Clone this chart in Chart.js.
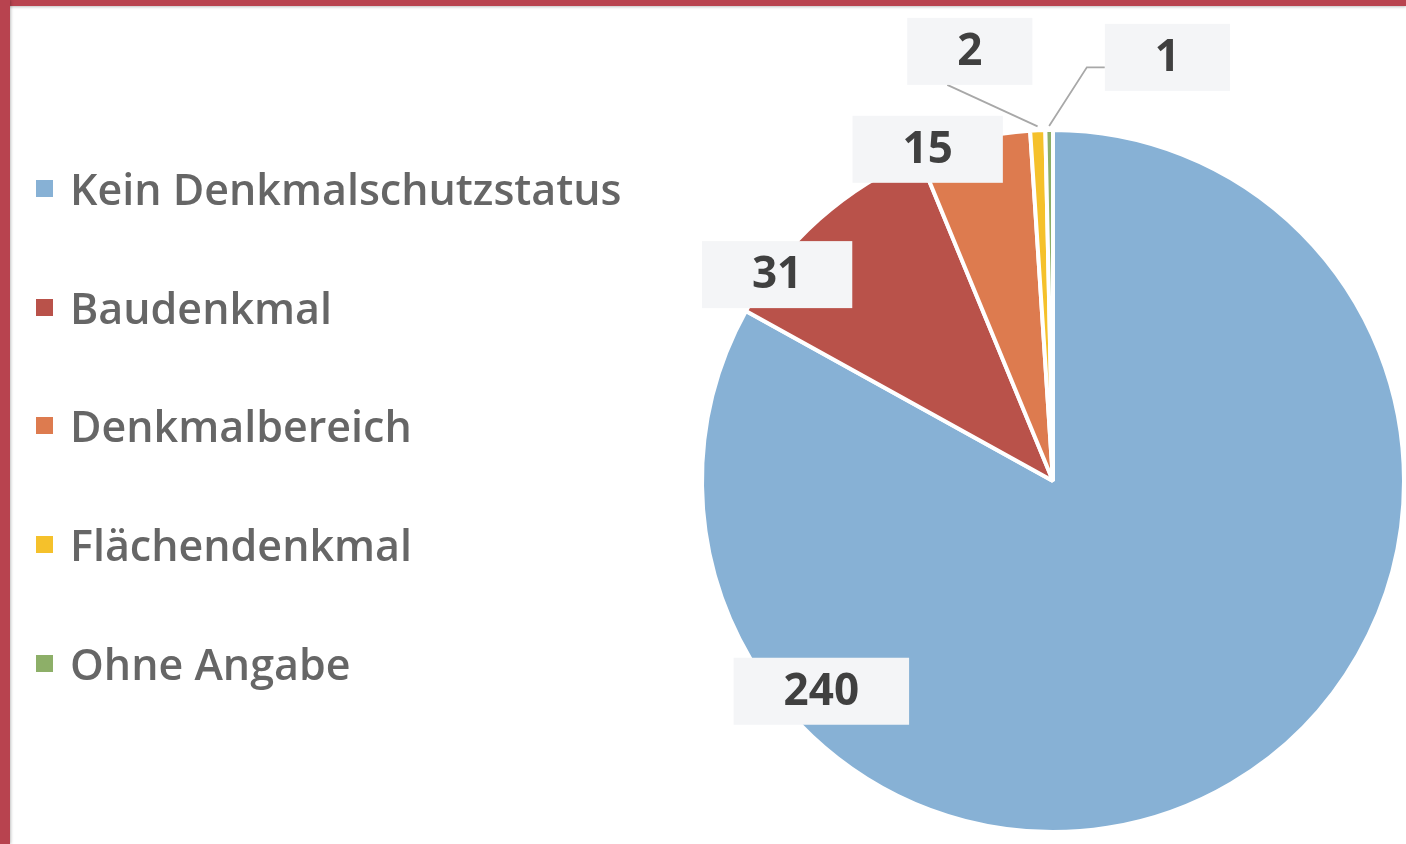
<!DOCTYPE html>
<html lang="de">

<head>
    <meta charset="UTF-8">
    <title>Denkmalschutzstatus</title>
    <script src="https://cdn.jsdelivr.net/npm/chart.js"></script>
    <style>
        html, body { margin: 0; padding: 0; background: #fff; }
        .frame { position: relative; width: 1406px; height: 844px; overflow: hidden; }
        .frame canvas { position: absolute; left: 0; top: 0; }
        .border-top { position: absolute; left: 0; top: 0; width: 1406px; height: 6px; background: #b8434f; box-shadow: 0 1px 3px rgba(0,0,0,0.25); }
        .border-left { position: absolute; left: 0; top: 0; width: 10px; height: 844px; background: #b8434f; box-shadow: 1px 0 3px rgba(0,0,0,0.25); }
        #legend { position: absolute; left: 36px; top: 129px; margin: 0; padding: 0; list-style: none;
                  font-family: 'Open Sans', sans-serif; font-weight: 600; font-size: 43px; color: #666666; }
        #legend li { display: flex; align-items: center; height: 118.75px; white-space: nowrap; }
        #legend .box { display: inline-block; width: 17px; height: 17px; margin-right: 17px; }
    </style>
</head>

<body>
    <div class="frame">
        <canvas id="statusChart" width="1406" height="844"></canvas>
        <ul id="legend"></ul>
        <div class="border-top"></div>
        <div class="border-left"></div>
    </div>

    <script>
        // data
        const categories = ['Kein Denkmalschutzstatus', 'Baudenkmal', 'Denkmalbereich', 'Flächendenkmal', 'Ohne Angabe'];
        const counts = [240, 31, 15, 2, 1];
        const sliceColors = ['#87b1d5', '#b9524a', '#dd7b4f', '#f5c12b', '#8daf68'];

        // where the value boxes sit, relative to pie centre, in units of the radius
        const labelSpots = [[-0.66, 0.599], [-0.786, -0.588], [-0.357, -0.945], [-0.237, -1.224], [0.326, -1.207]];
        const leaders = [null, null, null, 'bottom', 'left'];

        const valueBoxes = {
            id: 'valueBoxes',
            afterDatasetsDraw(chart) {
                const ctx = chart.ctx;
                const meta = chart.getDatasetMeta(0);
                ctx.save();
                ctx.font = '700 44px "Open Sans", sans-serif';
                ctx.textAlign = 'center';
                ctx.textBaseline = 'middle';

                const boxes = meta.data.map((arc, i) => {
                    const p = arc.getProps(['x', 'y', 'outerRadius', 'startAngle', 'endAngle'], true);
                    const text = String(chart.data.datasets[0].data[i]);
                    const w = ctx.measureText(text).width + 100;
                    const h = 67;
                    const cx = p.x + labelSpots[i][0] * p.outerRadius;
                    const cy = p.y + labelSpots[i][1] * p.outerRadius;
                    return { p, text, w, h, cx, cy };
                });

                // leader lines first
                ctx.strokeStyle = '#a8a8a8';
                ctx.lineWidth = 1.8;
                boxes.forEach((b, i) => {
                    if (!leaders[i]) return;
                    const mid = (b.p.startAngle + b.p.endAngle) / 2;
                    const r = b.p.outerRadius + 4;
                    const ax = b.p.x + Math.cos(mid) * r;
                    const ay = b.p.y + Math.sin(mid) * r;
                    ctx.beginPath();
                    ctx.moveTo(ax, ay);
                    if (leaders[i] === 'bottom') {
                        ctx.lineTo(b.cx - 0.18 * b.w, b.cy + b.h / 2);
                    } else {
                        const left = b.cx - b.w / 2;
                        ctx.lineTo(left - 18, b.cy + 10);
                        ctx.lineTo(left, b.cy + 10);
                    }
                    ctx.stroke();
                });

                boxes.forEach(b => {
                    ctx.fillStyle = '#f4f5f7';
                    ctx.fillRect(b.cx - b.w / 2, b.cy - b.h / 2, b.w, b.h);
                    ctx.fillStyle = '#404040';
                    ctx.fillText(b.text, b.cx, b.cy + 1);
                });
                ctx.restore();
            }
        };

        const chart = new Chart(document.getElementById('statusChart'), {
            type: 'pie',
            data: {
                labels: categories,
                datasets: [{
                    data: counts,
                    backgroundColor: sliceColors,
                    borderColor: '#ffffff',
                    borderWidth: 4
                }]
            },
            options: {
                responsive: false,
                devicePixelRatio: 1,
                animation: false,
                events: [],
                layout: { padding: { left: 700, right: 0, top: 128, bottom: 10 } },
                plugins: {
                    legend: { display: false },
                    tooltip: { enabled: false }
                }
            },
            plugins: [valueBoxes]
        });

        // html legend built from the chart's own legend items
        const legendEl = document.getElementById('legend');
        chart.options.plugins.legend.labels.generateLabels(chart).forEach(item => {
            const li = document.createElement('li');
            const box = document.createElement('span');
            box.className = 'box';
            box.style.background = item.fillStyle;
            li.appendChild(box);
            li.appendChild(document.createTextNode(item.text));
            legendEl.appendChild(li);
        });
    </script>
</body>

</html>
